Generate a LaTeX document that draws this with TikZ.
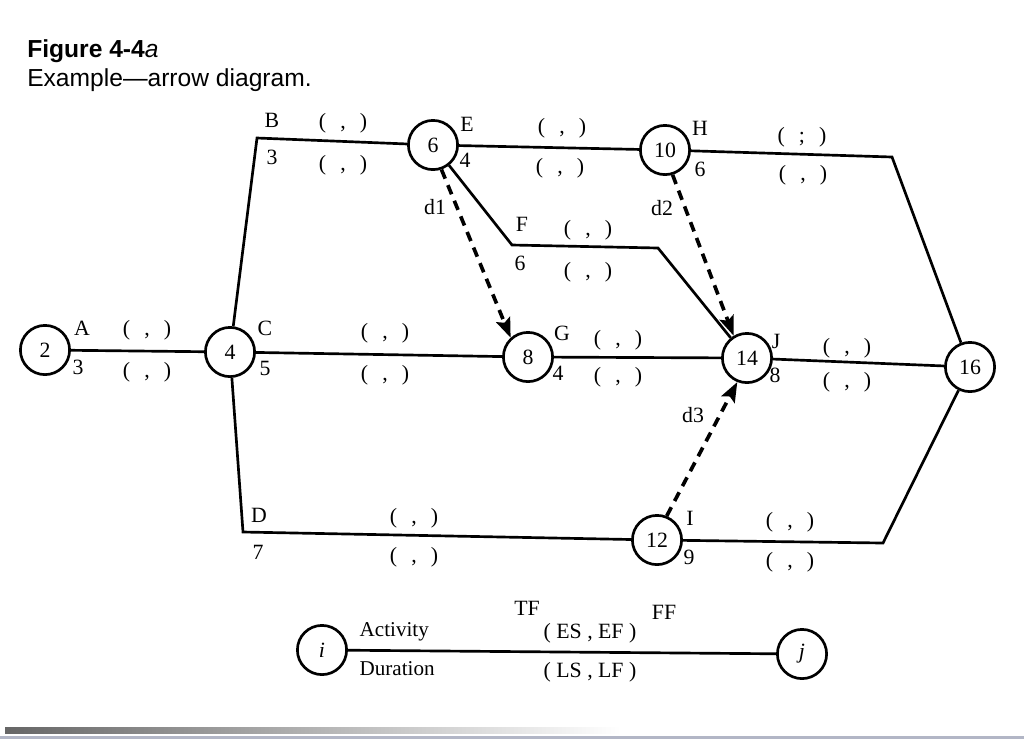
\documentclass[tikz,border=0pt]{standalone}
\usepackage{fontspec}
\setmainfont{Liberation Serif}
\newfontfamily\capfont{Liberation Sans}
\usepackage{tikz}
\usetikzlibrary{arrows.meta}
\usetikzlibrary{positioning}
\definecolor{scanedge}{RGB}{178,182,198}
\newcommand{\pp}{(\hspace{0.65em},\hspace{0.65em})}
\newcommand{\pq}{(\hspace{0.65em};\hspace{0.65em})}
\tikzset{
  event/.style={circle, draw, line width=1.9pt, minimum size=35pt, inner sep=0pt, font=\fontsize{15.5}{18}\selectfont},
  act/.style={line width=1.9pt},
  dummy/.style={line width=2.6pt, dash pattern=on 7pt off 5pt, -{Stealth[length=14pt,width=10.5pt,inset=2.5pt]}},
  lab/.style={font=\fontsize{15.5}{18}\selectfont, inner sep=1pt},
  legend/.style={font=\fontsize{15}{17}\selectfont, inner sep=1pt},
}

\begin{document}
\begin{tikzpicture}[x=0.025cm, y=-0.025cm]
        \useasboundingbox (0,0) rectangle (1024,739);
        \shade[left color=black!60, right color=white] (5,727) rectangle (620,733);
        \fill[scanedge] (0,736) rectangle (1024,739);

        \node[anchor=base west, font=\capfont\fontsize{17.5}{20}\selectfont, inner sep=0pt] (fig) at (27,57) {\bfseries Figure 4-4\mdseries\itshape a};
        \node[anchor=base west, font=\capfont\fontsize{17.5}{20}\selectfont, inner sep=0pt] (cap) at (27,86) {Example\textemdash arrow diagram.};

        \node[event] (n2)  at (45,350)  {2};
        \node[event] (n4)  at (230,352) {4};
        \node[event] (n6)  at (433,145) {6};
        \node[event] (n10) at (665,150) {10};
        \node[event] (n8)  at (528,357) {8};
        \node[event] (n14) at (747,358) {14};
        \node[event] (n16) at (970,367) {16};
        \node[event] (n12) at (657,540) {12};
        \node[event] (ni)  at (322,650) {\itshape i};
        \node[event] (nj)  at (802,654) {\itshape j};

        \coordinate (cB)  at (257,138);
        \coordinate (cD)  at (243,532);
        \coordinate (cF1) at (512,245);
        \coordinate (cF2) at (658,248);
        \coordinate (cH)  at (892,157);
        \coordinate (cI)  at (883,543);

        \draw[act] (n2) -- (n4);
        \draw[act] (n4) -- (cB) -- (n6);
        \draw[act] (n4) -- (n8);
        \draw[act] (n4) -- (cD) -- (n12);
        \draw[act] (n6) -- (n10);
        \draw[act] (n6) -- (cF1) -- (cF2) -- (n14);
        \draw[act] (n10) -- (cH) -- (n16);
        \draw[act] (n8) -- (n14);
        \draw[act] (n14) -- (n16);
        \draw[act] (n12) -- (cI) -- (n16);
        \draw[act] (ni) -- (nj);

        \draw[dummy] (n6.-71)  -- (n8.132);
        \draw[dummy] (n10.-73) -- (n14.121);
        \draw[dummy] (n12.68)  -- (n14.-112);

        \node[lab] (lA)  at (82,328)  {A};
        \node[lab] (tA)  at (78,367)  {3};
        \node[lab] (lB)  at (272,120) {B};
        \node[lab] (tB)  at (272,157) {3};
        \node[lab] (lC)  at (265,328) {C};
        \node[lab] (tC)  at (265,368) {5};
        \node[lab] (lD)  at (259,515) {D};
        \node[lab] (tD)  at (258,552) {7};
        \node[lab] (lE)  at (467,124) {E};
        \node[lab] (tE)  at (465,160) {4};
        \node[lab] (lF)  at (522,224) {F};
        \node[lab] (tF)  at (520,263) {6};
        \node[lab] (lG)  at (562,333) {G};
        \node[lab] (tG)  at (558,373) {4};
        \node[lab] (lH)  at (700,128) {H};
        \node[lab] (tH)  at (700,169) {6};
        \node[lab] (lI)  at (690,518) {I};
        \node[lab] (tI)  at (689,557) {9};
        \node[lab] (lJ)  at (776,341) {J};
        \node[lab] (tJ)  at (775,375) {8};
        \node[lab] (ld1) at (435,207) {d1};
        \node[lab] (ld2) at (662,208) {d2};
        \node[lab] (ld3) at (693,415) {d3};

        \node[lab] (eA) at (147,330) {\pp};
        \node[lab] (fA) at (147,372) {\pp};
        \node[lab] (eB) at (343,123) {\pp};
        \node[lab] (fB) at (343,165) {\pp};
        \node[lab] (eC) at (385,333) {\pp};
        \node[lab] (fC) at (385,375) {\pp};
        \node[lab] (eD) at (414,518) {\pp};
        \node[lab] (fD) at (414,557) {\pp};
        \node[lab] (eE) at (562,128) {\pp};
        \node[lab] (fE) at (560,168) {\pp};
        \node[lab] (eF) at (588,230) {\pp};
        \node[lab] (fF) at (588,272) {\pp};
        \node[lab] (eG) at (618,340) {\pp};
        \node[lab] (fG) at (618,377) {\pp};
        \node[lab] (eH) at (802,137) {\pq};
        \node[lab] (fH) at (803,175) {\pp};
        \node[lab] (eI) at (790,522) {\pp};
        \node[lab] (fI) at (790,562) {\pp};
        \node[lab] (eJ) at (847,348) {\pp};
        \node[lab] (fJ) at (847,382) {\pp};

        \node[legend, anchor=west] (act) at (358,632) {Activity};
        \node[legend, anchor=west] (dur) at (358,669) {Duration};
        \node[lab] (tf) at (527,608) {TF};
        \node[lab] (ff) at (664,612) {FF};
        \node[lab] (es) at (590,633) {( ES , EF )};
        \node[lab] (ls) at (590,672) {( LS , LF )};
    \end{tikzpicture}
\end{document}
